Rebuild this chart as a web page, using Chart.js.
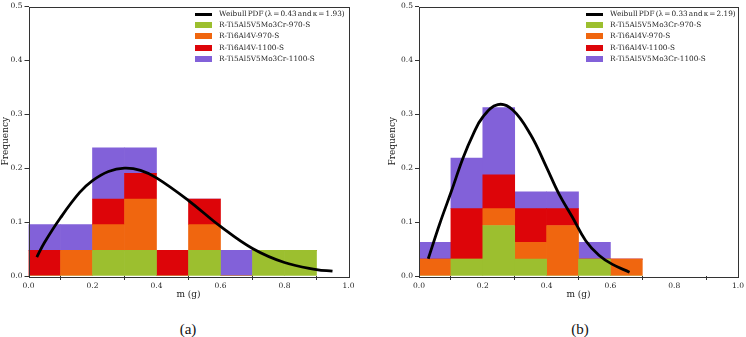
<!DOCTYPE html>
<html>
<head>
<meta charset="utf-8">
<script src="https://cdn.jsdelivr.net/npm/chart.js@4.4.0/dist/chart.umd.min.js"></script>
<style>
  body { margin: 0; background: #fff; }
  #page { position: relative; width: 746px; height: 337px; overflow: hidden; font-family: 'DejaVu Serif', serif; }
  canvas { position: absolute; top: 0; }
  .legend { position: absolute; top: 8px; font-size: 7.3px; color: #222; }
  .legend .row { position: relative; height: 11.2px; line-height: 11.2px; white-space: nowrap; padding-left: 24px; }
  .legend .row.curve { word-spacing: -1.2px; }
  .legend .sw { position: absolute; left: 0; width: 17px; }
  .caption { position: absolute; top: 321px; width: 60px; margin-left: -30px; text-align: center; font-family: 'Liberation Serif', serif; font-size: 15px; color: #111; }
</style>
</head>
<body>
<div id="page">
  <canvas id="chartA" width="373" height="300" style="left:0"></canvas>
  <canvas id="chartB" width="373" height="300" style="left:373px"></canvas>
  <div class="legend" id="legendA" style="left:195px"></div>
  <div class="legend" id="legendB" style="left:586px"></div>
  <div class="caption" style="left:188px">(a)</div>
  <div class="caption" style="left:580px">(b)</div>
</div>
<script>
// shared
const seriesNames = ['R-Ti5Al5V5Mo3Cr-970-S', 'R-Ti6Al4V-970-S', 'R-Ti6Al4V-1100-S', 'R-Ti5Al5V5Mo3Cr-1100-S'];
const seriesColors = ['#9cbf2f', '#f0660f', '#dd0509', '#8261d9'];
const xTicks = [0, 0.2, 0.4, 0.6, 0.8, 1.0];
const yTicks = [0, 0.1, 0.2, 0.3, 0.4, 0.5];

// panel (a): bin centres and stacked frequencies
const binsA = [0.05, 0.15, 0.25, 0.35, 0.45, 0.55, 0.65, 0.75, 0.85];
const greenA  = [0, 0, 0.0476, 0.0476, 0, 0.0476, 0, 0.0476, 0.0476];
const orangeA = [0, 0.0476, 0.0476, 0.0952, 0, 0.0476, 0, 0, 0];
const redA    = [0.0476, 0, 0.0476, 0.0476, 0.0476, 0.0476, 0, 0, 0];
const purpleA = [0.0476, 0.0476, 0.0952, 0.0476, 0, 0, 0.0476, 0, 0];
const curveLabelA = 'Weibull PDF (\u03bb = 0.43 and \u03ba = 1.93)';
const curveXA = [0.026, 0.05, 0.1, 0.16, 0.2, 0.25, 0.3, 0.35, 0.4, 0.5, 0.6, 0.7, 0.8, 0.9, 0.95];
const curveYA = [0.035, 0.062, 0.108, 0.155, 0.177, 0.194, 0.200, 0.196, 0.182, 0.140, 0.092, 0.051, 0.025, 0.012, 0.009];

// panel (b)
const binsB = [0.05, 0.15, 0.25, 0.35, 0.45, 0.55, 0.65];
const greenB  = [0, 0.03125, 0.09375, 0.03125, 0, 0.03125, 0];
const orangeB = [0.03125, 0, 0.03125, 0.03125, 0.09375, 0, 0.03125];
const redB    = [0, 0.09375, 0.0625, 0.0625, 0.03125, 0, 0];
const purpleB = [0.03125, 0.09375, 0.125, 0.03125, 0.03125, 0.03125, 0];
const curveLabelB = 'Weibull PDF (\u03bb = 0.33 and \u03ba = 2.19)';
const curveXB = [0.029, 0.065, 0.102, 0.138, 0.169, 0.2, 0.247, 0.294, 0.35, 0.398, 0.439, 0.481, 0.522, 0.564, 0.605, 0.66];
const curveYB = [0.032, 0.097, 0.158, 0.219, 0.262, 0.295, 0.318, 0.308, 0.262, 0.204, 0.152, 0.109, 0.066, 0.0385, 0.022, 0.007];

Chart.defaults.font.family = "'DejaVu Serif', serif";
Chart.defaults.color = '#333';

// matplotlib-style box round the plot area
const frame = {
  id: 'frame',
  afterDraw(chart) {
    const { ctx, chartArea: a } = chart;
    ctx.save();
    ctx.strokeStyle = '#333';
    ctx.lineWidth = 1;
    ctx.strokeRect(Math.round(a.left) + 0.5, Math.round(a.top) + 0.5,
      Math.round(a.right - a.left), Math.round(a.bottom - a.top));
    ctx.restore();
  }
};

function drawPanel(id, p) {
  const datasets = [{
    type: 'line',
    label: p.curveLabel,
    data: p.curveX.map((x, i) => ({ x, y: p.curveY[i] })),
    borderColor: '#000',
    borderWidth: 2.8,
    pointRadius: 0,
    tension: 0.4,
    stack: 'curve',
    order: -1
  }];
  p.series.forEach((vals, s) => {
    datasets.push({
      type: 'bar',
      label: seriesNames[s],
      data: p.bins.map((x, i) => ({ x, y: vals[i] })),
      backgroundColor: seriesColors[s],
      borderWidth: 0,
      barPercentage: 1,
      categoryPercentage: 1,
      stack: 'hist'
    });
  });

  new Chart(document.getElementById(id), {
    data: { datasets },
    options: {
      responsive: false,
      animation: false,
      layout: { padding: { top: 3, right: p.padRight, left: 0, bottom: 0 } },
      plugins: { legend: { display: false }, tooltip: { enabled: false } },
      scales: {
        x: {
          type: 'linear', min: 0, max: 1, offset: false, stacked: true,
          afterBuildTicks: s => { s.ticks = xTicks.map(v => ({ value: v })); },
          afterFit: s => { s.height = 24; },
          grid: { drawOnChartArea: false, drawTicks: true, tickLength: 4, color: '#333' },
          border: { display: false },
          ticks: { font: { size: 7.5 }, color: '#222', padding: 2, maxRotation: 0, callback: v => v.toFixed(1) },
          title: { display: true, text: 'm (g)', font: { size: 9 }, color: '#222', padding: { top: 0, bottom: 0 } }
        },
        y: {
          type: 'linear', min: 0, max: 0.5, stacked: true,
          afterBuildTicks: s => { s.ticks = yTicks.map(v => ({ value: v })); },
          afterFit: s => { s.width = p.yWidth; },
          grid: { drawOnChartArea: false, drawTicks: true, tickLength: 4, color: '#333' },
          border: { display: false },
          ticks: { font: { size: 7.5 }, color: '#222', padding: 2, callback: v => v.toFixed(1) },
          title: { display: true, text: 'Frequency', font: { size: 9 }, color: '#222', padding: { top: p.titlePad, bottom: 0 } }
        }
      }
    },
    plugins: [frame]
  });
}

function buildLegend(id, curveLabel) {
  const el = document.getElementById(id);
  const rows = [{ label: curveLabel, color: '#000', line: true }]
    .concat(seriesNames.map((n, i) => ({ label: n, color: seriesColors[i] })));
  rows.forEach(r => {
    const row = document.createElement('div');
    row.className = r.line ? 'row curve' : 'row';
    const sw = document.createElement('span');
    sw.className = 'sw';
    sw.style.background = r.color;
    sw.style.height = r.line ? '3px' : '6px';
    sw.style.top = r.line ? '4.5px' : '3px';
    row.appendChild(sw);
    row.appendChild(document.createTextNode(r.label));
    el.appendChild(row);
  });
}

drawPanel('chartA', {
  bins: binsA, series: [greenA, orangeA, redA, purpleA],
  curveLabel: curveLabelA, curveX: curveXA, curveY: curveYA,
  yWidth: 28.5, padRight: 24.5, titlePad: 0
});
drawPanel('chartB', {
  bins: binsB, series: [greenB, orangeB, redB, purpleB],
  curveLabel: curveLabelB, curveX: curveXB, curveY: curveYB,
  yWidth: 46, padRight: 6, titlePad: 14
});
buildLegend('legendA', curveLabelA);
buildLegend('legendB', curveLabelB);
</script>
</body>
</html>
